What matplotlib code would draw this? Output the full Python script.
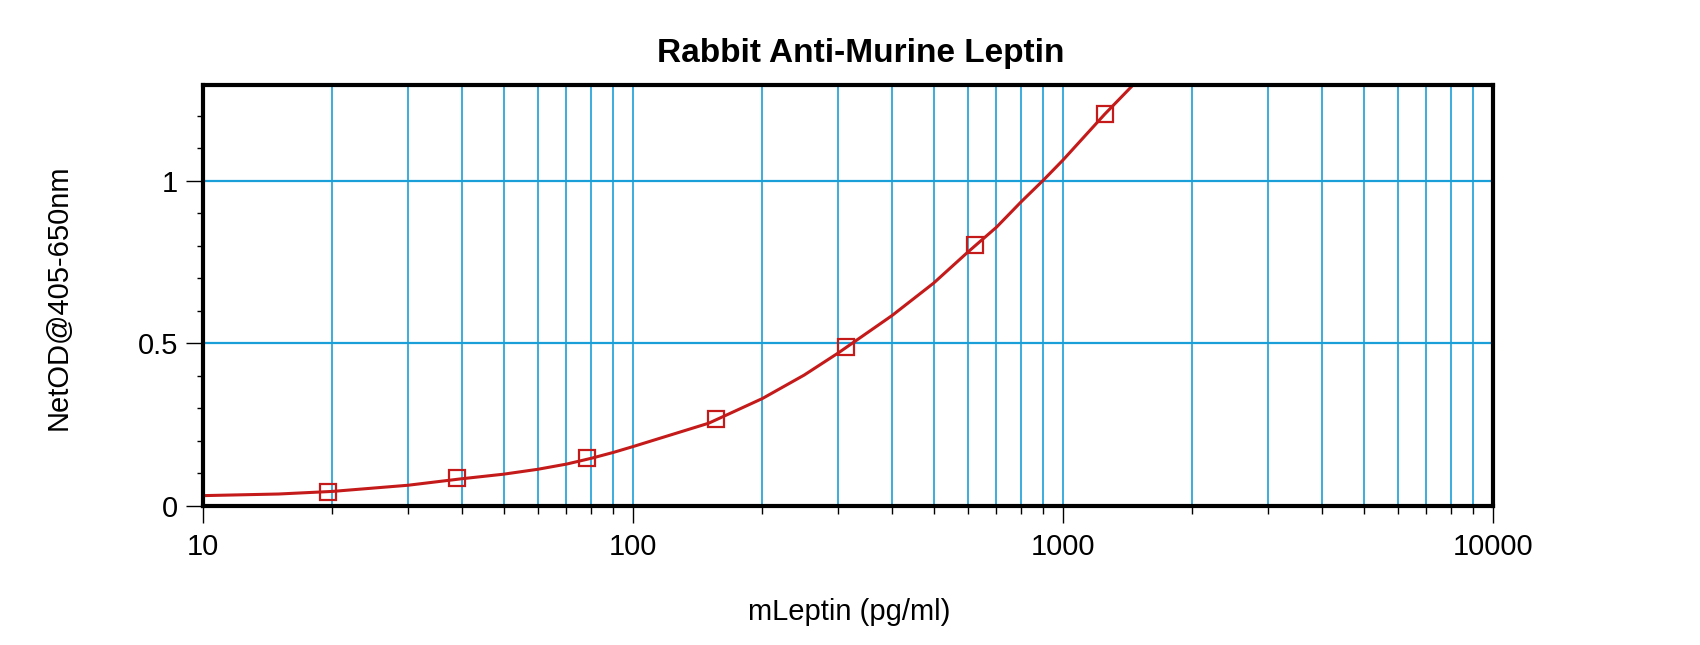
import numpy as np
import matplotlib
matplotlib.use("Agg")
import matplotlib.pyplot as plt
from matplotlib.ticker import FixedLocator, FixedFormatter

plt.rcParams['font.family'] = ['Liberation Sans', 'DejaVu Sans']

# data
# -------------------------
conc = [19.5, 39, 78, 156, 312.5, 625, 1250]          # pg/ml standards
od = [0.043, 0.086, 0.146, 0.267, 0.487, 0.804, 1.205]

# fitted curve as drawn in the picture
curve_x = [10, 15, 20, 30, 40, 50, 60, 70, 80, 90, 100, 150, 200, 250, 300,
           400, 500, 600, 700, 800, 900, 1000, 1250, 1460]
curve_y = [0.031, 0.036, 0.044, 0.063, 0.083, 0.097, 0.112, 0.128, 0.146,
           0.164, 0.182, 0.254, 0.330, 0.402, 0.470, 0.585, 0.685, 0.780,
           0.857, 0.936, 1.002, 1.064, 1.205, 1.297]

xmajor = [10, 100, 1000, 10000]
xmajor_labels = ['10', '100', '1000', '10000']
ymajor = [0, 0.5, 1]
ymajor_labels = ['0', '0.5', '1']

title = 'Rabbit Anti-Murine Leptin'
xlab = 'mLeptin (pg/ml)'
ylab = 'NetOD@405-650nm'

gridcol = '#1b9fd8'
red = '#c41a1a'

# figure
# ------
fig = plt.figure(figsize=(17, 6.45), dpi=100)
ax = fig.add_axes([203/1700, 1-505.7/645, 1290/1700, 420.7/645])

ax.set_xscale('log')
ax.set_xlim(10, 10000)
ax.set_ylim(0, 1.295)

xminor = [m*d for d in (10, 100, 1000) for m in range(2, 10)]
ax.xaxis.set_major_locator(FixedLocator(xmajor))
ax.xaxis.set_major_formatter(FixedFormatter(xmajor_labels))
ax.xaxis.set_minor_locator(FixedLocator(xminor))
ax.xaxis.set_minor_formatter(FixedFormatter([''] * len(xminor)))
ax.yaxis.set_major_locator(FixedLocator(ymajor))
ax.yaxis.set_major_formatter(FixedFormatter(ymajor_labels))
ax.yaxis.set_minor_locator(FixedLocator(np.arange(0.1, 1.3, 0.1)))

ax.tick_params(which='major', direction='out', length=12, width=1.0,
               labelsize=21, color='black')
ax.tick_params(axis='x', which='major', pad=8)
ax.tick_params(axis='y', which='major', pad=6)
ax.tick_params(axis='x', which='minor', direction='out', length=5.5, width=1.0)
ax.tick_params(axis='y', which='minor', direction='out', length=4, width=1.0)

ax.grid(True, which='major', axis='y', color=gridcol, linewidth=1.6)
ax.grid(True, which='both', axis='x', color=gridcol, linewidth=1.2)
ax.set_axisbelow(True)

for s in ax.spines.values():
    s.set_linewidth(3)
    s.set_zorder(5)

ax.plot(curve_x, curve_y, color=red, linewidth=2.2, zorder=3, clip_on=True)
ax.plot(conc, od, linestyle='none', marker='s', markersize=11.5,
        markerfacecolor='none', markeredgecolor=red, markeredgewidth=1.6,
        zorder=4)

fig.text(861/1700, 1-61.7/645, title, ha='center', va='baseline',
         fontsize=24, fontweight='bold')
fig.text(849/1700, 1-620/645, xlab, ha='center', va='baseline', fontsize=21)
fig.text(59/1700, 1-297/645, ylab, ha='center', va='center', rotation=90,
         fontsize=21)

fig.savefig('out.png', dpi=100)
